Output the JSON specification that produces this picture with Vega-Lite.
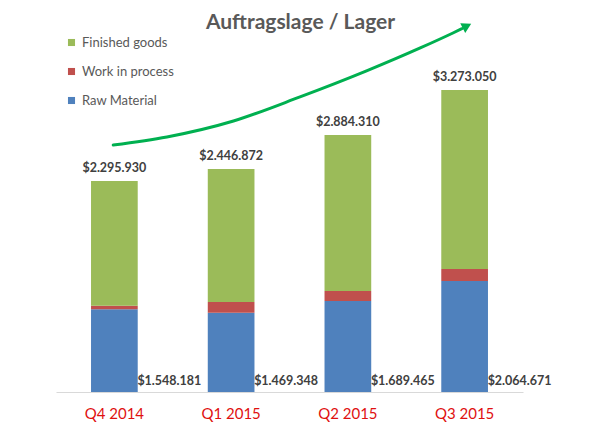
{
  "$schema": "https://vega.github.io/schema/vega-lite/v6.json",
  "description": "Auftragslage / Lager stacked bars",
  "autosize": {"type": "none"},
  "padding": {"left": 56, "top": 0, "right": 75, "bottom": 55},
  "width": 467,
  "height": 392,
  "background": "white",
  "title": {
    "text": "Auftragslage / Lager",
    "anchor": "middle",
    "dx": 11,
    "offset": -33,
    "font": "Lato",
    "fontSize": 21,
    "fontWeight": "bold",
    "color": "#595959"
  },
  "datasets": {
    "stock": [
      {"quarter": "Q4 2014", "series": "Raw Material", "value": 901000, "label": "$1.548.181"},
      {"quarter": "Q4 2014", "series": "Work in process", "value": 39000, "label": ""},
      {"quarter": "Q4 2014", "series": "Finished goods", "value": 1359000, "label": "$2.295.930"},
      {"quarter": "Q1 2015", "series": "Raw Material", "value": 864000, "label": "$1.469.348"},
      {"quarter": "Q1 2015", "series": "Work in process", "value": 117000, "label": ""},
      {"quarter": "Q1 2015", "series": "Finished goods", "value": 1450000, "label": "$2.446.872"},
      {"quarter": "Q2 2015", "series": "Raw Material", "value": 992000, "label": "$1.689.465"},
      {"quarter": "Q2 2015", "series": "Work in process", "value": 109000, "label": ""},
      {"quarter": "Q2 2015", "series": "Finished goods", "value": 1700000, "label": "$2.884.310"},
      {"quarter": "Q3 2015", "series": "Raw Material", "value": 1210000, "label": "$2.064.671"},
      {"quarter": "Q3 2015", "series": "Work in process", "value": 131000, "label": ""},
      {"quarter": "Q3 2015", "series": "Finished goods", "value": 1951000, "label": "$3.273.050"}
    ],
    "trend": [
      {"pos": -0.01, "value": 2692000},
      {"pos": 0.45, "value": 2780000},
      {"pos": 1.02, "value": 2954000},
      {"pos": 1.59, "value": 3216000},
      {"pos": 2.16, "value": 3500000},
      {"pos": 2.62, "value": 3750000},
      {"pos": 2.9, "value": 3913000},
      {"pos": 2.98, "value": 3962000}
    ],
    "tip": [
      {"pos": 3.02, "value": 3990000}
    ]
  },
  "layer": [
    {
      "layer": [
        {
          "data": {"name": "stock"},
          "transform": [
            {"calculate": "indexof(['Raw Material','Work in process','Finished goods'], datum.series)", "as": "stackOrder"}
          ],
          "mark": {"type": "bar"},
          "encoding": {
            "x": {
              "field": "quarter",
              "type": "nominal",
              "sort": ["Q4 2014", "Q1 2015", "Q2 2015", "Q3 2015"],
              "scale": {"paddingInner": 0.6, "paddingOuter": 0.3},
              "axis": {
                "title": null,
                "labelAngle": 0,
                "labelFont": "Lato",
                "labelFontSize": 15,
                "labelColor": "#e01010",
                "labelPadding": 14,
                "ticks": false,
                "domainColor": "#d9d9d9",
                "domainWidth": 1
              }
            },
            "y": {
              "field": "value",
              "type": "quantitative",
              "stack": "zero",
              "scale": {"domain": [0, 4272800], "nice": false},
              "axis": null
            },
            "color": {
              "field": "series",
              "type": "nominal",
              "scale": {
                "domain": ["Finished goods", "Work in process", "Raw Material"],
                "range": ["#9bbb59", "#c0504d", "#4f81bd"]
              },
              "legend": {
                "title": null,
                "orient": "none",
                "legendX": 9,
                "legendY": 36,
                "direction": "vertical",
                "symbolType": "square",
                "symbolSize": 50,
                "symbolStrokeWidth": 0,
                "labelFont": "Lato",
                "labelFontSize": 13,
                "labelColor": "#595959",
                "labelOffset": 4,
                "rowPadding": 15,
                "padding": 0
              }
            },
            "order": {"field": "stackOrder", "type": "quantitative"}
          }
        },
        {
          "data": {"name": "stock"},
          "transform": [
            {"joinaggregate": [{"op": "sum", "field": "value", "as": "top"}], "groupby": ["quarter"]},
            {"filter": "datum.series === 'Finished goods'"}
          ],
          "mark": {"type": "text", "baseline": "middle", "dy": -13, "font": "Lato", "fontSize": 12.5, "fontWeight": "bold", "color": "#404040"},
          "encoding": {
            "x": {"field": "quarter", "type": "nominal", "sort": ["Q4 2014", "Q1 2015", "Q2 2015", "Q3 2015"]},
            "y": {"field": "top", "type": "quantitative"},
            "text": {"field": "label"}
          }
        },
        {
          "data": {"name": "stock"},
          "transform": [
            {"filter": "datum.series === 'Raw Material'"}
          ],
          "mark": {"type": "text", "align": "left", "baseline": "middle", "dx": 23, "dy": -11, "font": "Lato", "fontSize": 12.5, "fontWeight": "bold", "color": "#404040"},
          "encoding": {
            "x": {"field": "quarter", "type": "nominal", "sort": ["Q4 2014", "Q1 2015", "Q2 2015", "Q3 2015"]},
            "y": {"datum": 0, "type": "quantitative"},
            "text": {"field": "label"}
          }
        }
      ]
    },
    {
      "data": {"name": "trend"},
      "mark": {"type": "line", "interpolate": "monotone", "color": "#00b050", "strokeWidth": 3, "strokeCap": "round"},
      "encoding": {
        "x": {"field": "pos", "type": "quantitative", "scale": {"domain": [-0.5, 3.5], "nice": false, "zero": false}, "axis": null},
        "y": {"field": "value", "type": "quantitative"}
      }
    },
    {
      "data": {"name": "tip"},
      "mark": {"type": "point", "shape": "triangle-right", "filled": true, "color": "#00b050", "opacity": 1, "size": 120, "angle": 333},
      "encoding": {
        "x": {"field": "pos", "type": "quantitative", "scale": {"domain": [-0.5, 3.5], "nice": false, "zero": false}, "axis": null},
        "y": {"field": "value", "type": "quantitative"}
      }
    }
  ],
  "resolve": {"scale": {"x": "independent"}},
  "config": {
    "view": {"stroke": null},
    "axis": {"grid": false}
  }
}
